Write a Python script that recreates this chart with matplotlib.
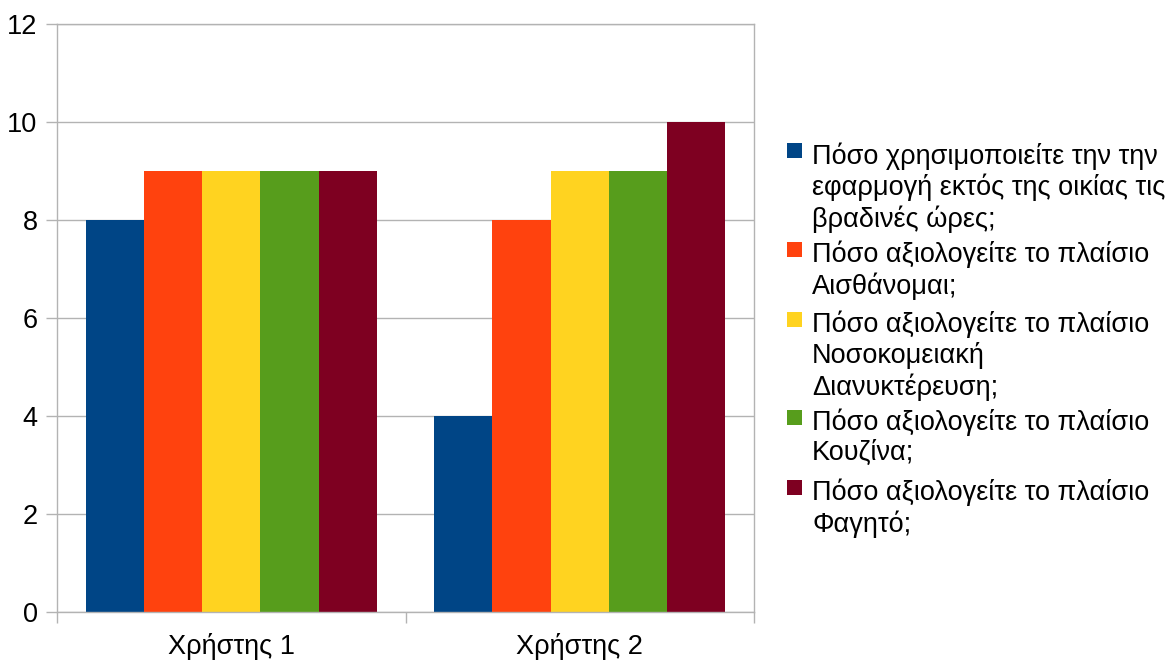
import matplotlib
matplotlib.use("Agg")
import matplotlib.pyplot as plt
from matplotlib.patches import Rectangle
import numpy as np

plt.rcParams['font.family'] = ['Liberation Sans', 'DejaVu Sans']

categories = ["Χρήστης 1", "Χρήστης 2"]
series_labels = [
    "Πόσο χρησιμοποιείτε την την\nεφαρμογή εκτός της οικίας τις\nβραδινές ώρες;",
    "Πόσο αξιολογείτε το πλαίσιο\nΑισθάνομαι;",
    "Πόσο αξιολογείτε το πλαίσιο\nΝοσοκομειακή\nΔιανυκτέρευση;",
    "Πόσο αξιολογείτε το πλαίσιο\nΚουζίνα;",
    "Πόσο αξιολογείτε το πλαίσιο\nΦαγητό;",
]
series_values = [
    [8, 4],
    [9, 8],
    [9, 9],
    [9, 9],
    [9, 10],
]
colors = ["#004586", "#ff420e", "#ffd320", "#579d1c", "#7e0021"]
yticks = [0, 2, 4, 6, 8, 10, 12]

W, H = 1172, 661
FS = 19.5
fig = plt.figure(figsize=(W / 100, H / 100), dpi=100)
ax = fig.add_axes([57 / W, (H - 612) / H, 697 / W, 588 / H])

grid_c = "#b3b3b3"
n = len(series_values)
bw = 0.167
x = np.arange(len(categories))
for i, (vals, c) in enumerate(zip(series_values, colors)):
    ax.bar(x + (i - (n - 1) / 2) * bw, vals, width=bw, color=c, zorder=3)

ax.set_xlim(-0.5, len(categories) - 0.5)
ax.set_ylim(0, 12)
ax.set_yticks(yticks)
ax.set_yticklabels([str(t) for t in yticks])
ax.yaxis.grid(True, color=grid_c, linewidth=1, zorder=0)
ax.set_xticks(x)
ax.set_xticklabels(categories)
ax.set_xticks(np.arange(len(categories) + 1) - 0.5, minor=True)
ax.tick_params(axis='x', which='major', length=0, pad=15, labelsize=FS)
ax.tick_params(axis='x', which='minor', length=8, color=grid_c, width=1)
ax.tick_params(axis='y', length=8, color=grid_c, width=1, pad=6, labelsize=FS)
for s in ax.spines.values():
    s.set_color(grid_c)
    s.set_linewidth(1)
    s.set_zorder(4)

# legend (manual, top-aligned markers like the reference)
tops = [143, 242, 312, 410, 480]
for lab, c, t in zip(series_labels, colors, tops):
    fig.patches.append(Rectangle((787 / W, 1 - (t + 15) / H), 15 / W, 15 / H,
                                 transform=fig.transFigure, facecolor=c, edgecolor='none'))
    fig.text(812 / W, 1 - (t - 1) / H, lab, fontsize=FS, va='top', ha='left',
             linespacing=1.19)

fig.savefig("out.png", dpi=100)
